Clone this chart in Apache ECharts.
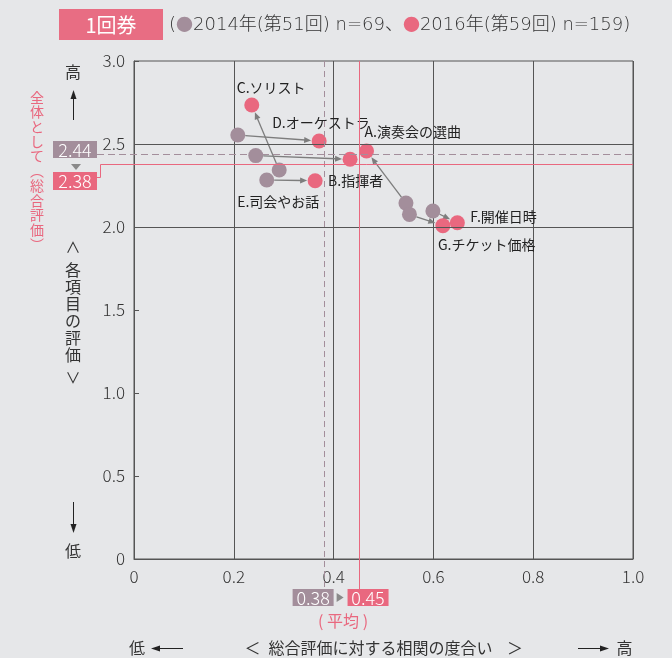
<!DOCTYPE html>
<html>
<head>
<meta charset="utf-8">
<script src="https://cdn.jsdelivr.net/npm/echarts@6/dist/echarts.min.js"></script>
<style>
  html, body { margin: 0; padding: 0; background: #e6e7e9; }
  #chart { width: 672px; height: 658px; }
</style>
</head>
<body>
<div id="chart"></div>
<script>
// Survey items (A–G)
const items = ['A.演奏会の選曲', 'B.指揮者', 'C.ソリスト', 'D.オーケストラ', 'E.司会やお話', 'F.開催日時', 'G.チケット価格'];

// 2014 (51st) : correlation with overall rating / item rating
const x2014 = [0.545, 0.244, 0.291, 0.208, 0.266, 0.599, 0.552];
const y2014 = [2.144, 2.430, 2.343, 2.554, 2.283, 2.096, 2.076];

// 2016 (59th)
const x2016 = [0.466, 0.433, 0.236, 0.371, 0.363, 0.648, 0.619];
const y2016 = [2.458, 2.408, 2.735, 2.518, 2.279, 2.026, 2.008];

// averages: [2014, 2016]
const meanX = [0.38, 0.45];
const meanY = [2.44, 2.38];

// reference lines across the plot
const yGuides = [2.0, 2.5];

const caption = '(●2014年(第51回) n=69、●2016年(第59回) n=159)';

// label placement around each 2016 point: [dx, dy] of the label's left/middle from the point centre
const labelShift = [[-2, -19], [-22, 21], [-15, -17], [-47, -18], [-78, 21], [13, -6], [-5, 19]];

const PINK = '#e9687f';
const MAUVE = '#a38e9b';
const INK = '#333333';
const GRIDC = '#555555';
const FONT = '"Noto Sans CJK JP", "Noto Sans", sans-serif';
const WIDE = '"DejaVu Sans", "Noto Sans CJK JP", sans-serif';
const R = 7.5; // marker radius

const chart = echarts.init(document.getElementById('chart'), null, { renderer: 'canvas' });

const fmt = v => (v === 0 ? '0' : v.toFixed(1));

const pts2014 = x2014.map((x, i) => [x, y2014[i]]);
const pts2016 = x2016.map((x, i) => ({
  value: [x, y2016[i]],
  name: items[i],
  label: { position: [R + labelShift[i][0], R + labelShift[i][1]] }
}));
const arrowData = x2014.map((x, i) => [x, y2014[i], x2016[i], y2016[i]]);

chart.setOption({
  animation: false,
  backgroundColor: '#e6e7e9',
  grid: {
    left: 134, right: 39, top: 61, bottom: 99,
    show: true, borderColor: GRIDC, borderWidth: 1, backgroundColor: 'transparent'
  },
  xAxis: {
    type: 'value', min: 0, max: 1, interval: 0.2,
    axisLine: { show: true, lineStyle: { color: GRIDC, width: 1 } },
    axisTick: { show: false },
    splitLine: { show: true, lineStyle: { color: GRIDC, width: 1 } },
    axisLabel: { formatter: fmt, color: INK, fontSize: 17, fontFamily: FONT, fontWeight: 300, margin: 9 }
  },
  yAxis: {
    type: 'value', min: 0, max: 3, interval: 0.5,
    axisLine: { show: true, lineStyle: { color: GRIDC, width: 1 } },
    axisTick: { show: true, inside: true, length: 5, lineStyle: { color: GRIDC } },
    splitLine: { show: false },
    axisLabel: { formatter: fmt, color: INK, fontSize: 17, fontFamily: FONT, fontWeight: 300, margin: 9 }
  },
  series: [
    {
      name: '2014', type: 'scatter', symbolSize: 2 * R, z: 2,
      itemStyle: { color: MAUVE, opacity: 1 },
      data: pts2014,
      markLine: {
        silent: true, symbol: 'none', animation: false,
        label: { show: false },
        lineStyle: { color: GRIDC, width: 1, type: 'solid' },
        data: yGuides.map(v => ({ yAxis: v }))
      }
    },
    {
      name: 'arrows', type: 'custom', z: 3, silent: true,
      data: arrowData,
      renderItem(params, api) {
        const p0 = api.coord([api.value(0), api.value(1)]);
        const p1 = api.coord([api.value(2), api.value(3)]);
        const dx = p1[0] - p0[0], dy = p1[1] - p0[1];
        const L = Math.hypot(dx, dy);
        const ux = dx / L, uy = dy / L;
        const s = [p0[0] + ux * R, p0[1] + uy * R];
        const e = [p1[0] - ux * (R + 0.5), p1[1] - uy * (R + 0.5)];
        const hl = 7, hw = 3;
        const b = [e[0] - ux * hl, e[1] - uy * hl];
        return {
          type: 'group',
          children: [
            { type: 'line', shape: { x1: s[0], y1: s[1], x2: b[0] + ux, y2: b[1] + uy },
              style: { stroke: '#7d7d7d', lineWidth: 1.3 } },
            { type: 'polygon', shape: { points: [e, [b[0] - uy * hw, b[1] + ux * hw], [b[0] + uy * hw, b[1] - ux * hw]] },
              style: { fill: '#7d7d7d' } }
          ]
        };
      }
    },
    {
      name: '2016', type: 'scatter', symbolSize: 2 * R, z: 4,
      itemStyle: { color: PINK, opacity: 1 },
      label: {
        show: true, formatter: '{b}', align: 'left', verticalAlign: 'middle',
        color: '#222', fontSize: 14, fontFamily: FONT
      },
      data: pts2016
    }
  ]
});

// annotation layer: averages, axis captions and header, anchored through the grid's scales
function annotate() {
  const px = v => chart.convertToPixel({ gridIndex: 0 }, v);
  const top = px([0, 3])[1];
  const right = px([1, 0])[0];
  const xa = px([meanX[0], 0])[0], xb = px([meanX[1], 0])[0];
  const ya = px([0, meanY[0]])[1], yb = px([0, meanY[1]])[1];
  const crisp = v => Math.round(v) + 0.5;

  const g = [];
  const txt = (x, y, text, o = {}) => g.push({
    type: 'text', x, y, z: 10, silent: true,
    style: Object.assign({ text, fill: INK, font: `16px ${FONT}`, align: 'center', verticalAlign: 'middle' }, o)
  });
  const box = (x, y, w, h, fill, text) => {
    g.push({ type: 'rect', z: 9, silent: true, shape: { x, y, width: w, height: h }, style: { fill } });
    txt(x + w / 2, y + h / 2 + 0.5, text, { fill: '#fff', font: `300 18px ${FONT}` });
  };
  const seg = (pts, stroke, dash) => g.push({
    type: 'polyline', z: 8, silent: true,
    shape: { points: pts },
    style: { stroke, lineWidth: 1, fill: null, lineDash: dash || null }
  });
  const tri = (pts, fill) => g.push({ type: 'polygon', z: 9, silent: true, shape: { points: pts }, style: { fill } });

  // header
  g.push({ type: 'rect', z: 9, silent: true, shape: { x: 59, y: 9, width: 104, height: 31 }, style: { fill: '#e86d83' } });
  txt(111, 25, '1回券', { fill: '#fff', font: `20px ${FONT}` });
  const parts = caption.split('●');
  g.push({
    type: 'text', x: 169, y: 25, z: 10, silent: true,
    style: {
      text: parts[0] + '{m|●}' + parts[1] + '{p|●}' + parts[2],
      fill: INK, font: `200 18px ${WIDE}`, align: 'left', verticalAlign: 'middle',
      rich: {
        m: { fill: MAUVE, font: `17px ${FONT}` },
        p: { fill: PINK, font: `17px ${FONT}` }
      }
    }
  });

  // vertical average lines and their value boxes
  const bx = 589;
  seg([[crisp(xa), top], [crisp(xa), bx]], MAUVE, [6, 4]);
  seg([[crisp(xb), top], [crisp(xb), bx]], PINK);
  box(xa - 31, bx, 41, 17, MAUVE, meanX[0].toFixed(2));
  box(xb - 11, bx, 41, 17, PINK, meanX[1].toFixed(2));
  tri([[xa + 13, bx + 4], [xa + 13, bx + 13], [xa + 20, bx + 8.5]], '#8a8a8a');
  txt((xa + xb) / 2 + 2, bx + 32, '( 平均 )', { fill: PINK, font: `16px ${FONT}` });

  // horizontal average lines and their value boxes
  const lx = 53, lw = 44;
  seg([[lx + lw, crisp(ya)], [right, crisp(ya)]], MAUVE, [7, 4]);
  box(lx, ya - 13, lw, 17, MAUVE, meanY[0].toFixed(2));
  tri([[lx + 18, yb + 0], [lx + 28, yb + 0], [lx + 23, yb + 6]], '#8a8a8a');
  box(lx, yb + 8, lw, 18, PINK, meanY[1].toFixed(2));
  seg([[lx + lw, crisp(yb + 13)], [lx + lw + 3.5, crisp(yb + 13)], [lx + lw + 3.5, crisp(yb)], [right, crisp(yb)]], PINK);

  // left side: vertical captions
  const cx = 73;
  txt(cx, 72, '高');
  seg([[cx + 0.5, 120], [cx + 0.5, 97]], '#222');
  tri([[cx + 0.5, 90], [cx - 2.5, 99], [cx + 3.5, 99]], '#222');
  txt(37, 90, '全\n体\nと\nし\nて\n︵\n総\n合\n評\n価\n︶',
    { fill: PINK, font: `14px ${FONT}`, lineHeight: 14.7, verticalAlign: 'top' });
  txt(cx, 247, '∧', { font: `15px ${FONT}` });
  txt(cx, 261.5, '各\n項\n目\nの\n評\n価', { font: `16px ${FONT}`, lineHeight: 17, verticalAlign: 'top' });
  txt(cx, 377, '∨', { font: `15px ${FONT}` });
  seg([[cx + 0.5, 502], [cx + 0.5, 526]], '#222');
  tri([[cx + 0.5, 533], [cx - 2.5, 524], [cx + 3.5, 524]], '#222');
  txt(cx, 551, '低');

  // bottom caption
  const by = 648;
  txt(137, by, '低');
  seg([[158, by + 0.5], [183, by + 0.5]], '#222');
  tri([[151, by + 0.5], [160, by - 2.5], [160, by + 3.5]], '#222');
  txt(252.5, by, '＜');
  txt(380.5, by, '総合評価に対する相関の度合い');
  txt(515, by, '＞');
  seg([[578, by + 0.5], [602, by + 0.5]], '#222');
  tri([[609, by + 0.5], [600, by - 2.5], [600, by + 3.5]], '#222');
  txt(624.5, by, '高');

  chart.setOption({ graphic: { elements: g } });
}
annotate();
</script>
</body>
</html>
